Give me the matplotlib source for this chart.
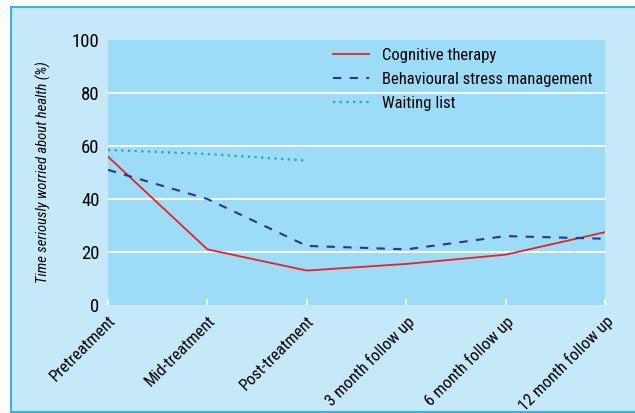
import matplotlib.pyplot as plt
from matplotlib.patches import Rectangle

plt.rcParams['font.family'] = ['Roboto Condensed', 'Liberation Sans', 'DejaVu Sans']

stages = ['Pretreatment', 'Mid-treatment', 'Post-treatment',
          '3 month follow up', '6 month follow up', '12 month follow up']
cognitive = [56, 21, 13, 15.5, 19, 27.5]
behavioural = [51, 40, 22.3, 21, 26, 25]
waiting = [58.5, 57, 54.5]

fig = plt.figure(figsize=(6.35, 4.13), dpi=100)
fig.patch.set_facecolor('white')
fig.patches.append(Rectangle((0.0173, 0.002), 0.99, 0.981, transform=fig.transFigure,
                             facecolor='#c6e9f9', edgecolor='#3ab4e6', linewidth=1.5,
                             zorder=-10))

ax = fig.add_axes([0.170, 0.2615, 0.783, 0.6416])
ax.set_facecolor('#9ddcf7')
for s in ax.spines.values():
    s.set_visible(False)

x = list(range(len(stages)))
ax.plot(x, cognitive, color='#e8202a', lw=1.3, label='Cognitive therapy')
ax.plot(x, behavioural, color='#2b3595', lw=1.5, dashes=(4, 4),
        label='Behavioural stress management')
ax.plot(x[:len(waiting)], waiting, color='#1aa7c9', lw=1.6, dashes=(1, 2),
        label='Waiting list')

ax.set_xlim(0, 5)
ax.set_ylim(0, 100)
ax.set_yticks([0, 20, 40, 60, 80, 100])
ax.set_yticklabels(['0', '20', '40', '60', '80', '100'], fontsize=13.5)
ax.tick_params(axis='y', length=0, pad=6)
ax.set_axisbelow(True)
for v in [20, 40, 60, 80]:
    ax.axhline(v, color='white', lw=1.3, zorder=0)

ax.set_xticks(x)
ax.set_xticklabels(stages, rotation=45, ha='right', rotation_mode='anchor', fontsize=12)
ax.tick_params(axis='x', direction='in', length=4, width=1.2, color='white', pad=6)

ax.set_ylabel('Time seriously worried about health (%)', fontsize=10.5,
              style='italic', labelpad=15)

leg = ax.legend(loc='upper right', frameon=False, fontsize=12, handlelength=2.15,
                handletextpad=0.8, labelspacing=0.55, bbox_to_anchor=(1.005, 1.028))

fig.savefig('out.png', dpi=100)
